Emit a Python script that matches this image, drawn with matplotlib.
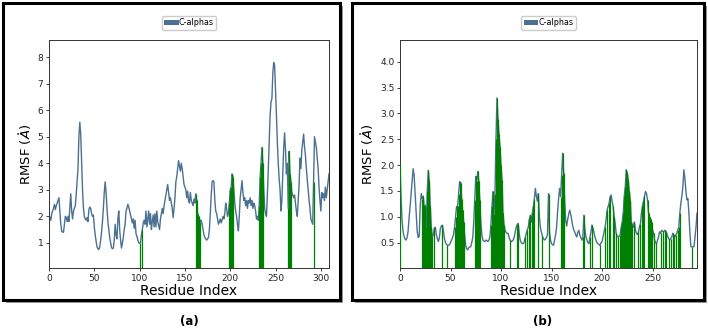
import numpy as np
import matplotlib.pyplot as plt
from matplotlib.patches import Rectangle, Patch

# RMSF 数据（每个残基一个值，按图读出）
rmsf_a = [
    2.05, 1.95, 1.85, 2.1, 2.2, 2.3, 2.45, 2.25, 2.4, 2.5,
    2.6, 2.7, 2.2, 1.7, 1.45, 1.4, 1.4, 1.7, 2.0, 1.95,
    1.8, 2.0, 1.8, 2.3, 2.85, 2.2, 1.9, 2.2, 2.3, 2.4,
    2.8, 3.3, 3.8, 5.0, 5.55, 5.1, 4.0, 3.0, 2.3, 2.0,
    1.9, 1.85, 1.95, 1.8, 2.25, 2.35, 2.3, 2.1, 2.0, 2.05,
    1.6, 1.3, 1.05, 0.85, 0.78, 0.75, 0.85, 1.1, 1.4, 1.8,
    2.3, 2.9, 3.3, 2.9, 2.3, 1.8, 1.5, 1.2, 1.0, 0.82,
    0.78, 0.8, 1.1, 1.7, 1.3, 1.15, 1.9, 2.2, 1.5, 1.1,
    0.8, 1.0, 1.2, 1.5, 1.7, 2.2, 2.3, 2.45, 2.35, 2.2,
    2.05, 1.9, 1.75, 1.9, 1.55, 1.85, 1.35, 1.25, 1.1, 1.0,
    0.98, 1.0, 1.3, 1.5, 1.75, 1.85, 1.7, 2.2, 1.6, 1.9,
    2.2, 1.7, 2.1, 1.5, 1.8, 2.05, 1.6, 2.1, 1.6, 2.2,
    1.8, 1.65, 1.5, 1.9, 2.1, 2.3, 2.1, 2.4, 2.6, 2.8,
    3.0, 3.2, 2.9, 2.6, 2.7, 2.5, 2.3, 1.95, 2.3, 2.7,
    3.3, 3.5, 3.8, 4.1, 3.9, 3.7, 4.0, 3.8, 3.5, 3.2,
    3.1, 3.0, 2.7, 2.95, 2.6, 2.5, 2.9, 2.6, 2.5, 2.4,
    2.65, 2.5, 2.85, 2.6, 2.1, 2.0, 1.9, 1.8, 1.85, 1.7,
    1.5, 1.3, 1.2, 1.15, 1.1, 1.15, 1.2, 1.5, 2.1, 2.8,
    3.3, 3.35, 3.3, 2.6, 2.2, 2.1, 1.9, 1.7, 1.8, 1.9,
    1.75, 1.85, 2.0, 1.9, 2.1, 2.5, 2.3, 2.0, 2.1, 2.5,
    3.0, 3.1, 3.6, 3.5, 3.0, 2.5, 2.2, 2.0, 1.7, 1.45,
    2.0, 2.7, 3.0, 3.35, 2.9, 2.6, 2.7, 2.4, 2.6, 2.3,
    2.6, 2.5, 2.7, 2.4, 2.6, 2.3, 2.5, 2.4, 2.2, 1.9,
    2.0, 1.85, 2.4, 3.5, 4.0, 4.6, 4.0, 3.0, 2.3, 2.1,
    2.0, 2.8, 3.8, 4.8, 5.8, 6.3, 6.45, 7.4, 7.8, 7.7,
    6.8, 5.8, 4.8, 4.0, 3.4, 3.0, 2.2, 2.6, 3.6, 4.6,
    5.15, 4.5, 3.6, 4.0, 2.3, 4.45, 3.6, 3.3, 2.9, 2.8,
    2.7, 2.8, 2.5, 2.2, 2.0, 2.6, 3.2, 4.2, 3.8, 4.5,
    4.8, 5.1, 4.6, 4.3, 3.8, 3.4, 3.0, 2.6, 2.3, 1.9,
    1.8, 1.7, 3.3, 5.0, 4.8, 4.6, 4.2, 3.8, 3.1, 2.6,
    2.2, 2.9, 2.7, 2.85, 2.6, 3.1, 2.7, 3.0, 3.3, 3.6,
]

rmsf_b = [
    2.0, 1.4, 0.95, 0.72, 0.62, 0.57, 0.55, 0.6, 0.72, 0.98,
    1.2, 1.45, 1.7, 1.93, 1.8, 1.45, 1.1, 0.72, 0.6, 0.62,
    1.2, 1.45, 1.35, 1.4, 1.2, 1.22, 0.8, 1.5, 1.9, 1.7,
    1.2, 0.8, 0.6, 0.65, 0.78, 0.8, 0.65, 0.58, 0.52, 0.6,
    0.78, 0.82, 0.84, 0.72, 0.58, 0.5, 0.47, 0.45, 0.45, 0.46,
    0.5, 0.55, 0.6, 0.66, 0.8, 1.0, 1.2, 1.2, 1.45, 1.68,
    1.66, 1.35, 1.13, 0.9, 0.65, 0.45, 0.38, 0.36, 0.4, 0.42,
    0.42, 0.5, 0.6, 0.9, 1.33, 1.78, 1.7, 1.88, 1.7, 1.33,
    0.9, 0.65, 0.55, 0.53, 0.52, 0.55, 0.54, 0.52, 0.55, 0.61,
    0.85, 1.2, 1.49, 1.05, 1.45, 2.5, 3.3, 2.9, 2.6, 2.36,
    2.0, 1.71, 1.07, 0.85, 0.74, 0.7, 0.68, 0.68, 0.6, 0.55,
    0.52, 0.53, 0.55, 0.6, 0.7, 0.8, 0.85, 0.87, 0.68, 0.55,
    0.5, 0.48, 0.48, 0.52, 0.6, 0.68, 0.75, 0.8, 0.95, 1.03,
    0.9, 1.07, 1.2, 1.35, 1.55, 1.39, 1.3, 1.45, 1.0, 0.8,
    0.7, 0.62, 0.58, 0.55, 0.57, 0.6, 0.65, 1.45, 0.7, 0.55,
    0.48, 0.46, 0.45, 0.55, 0.65, 0.8, 1.1, 1.35, 1.55, 1.39,
    1.8, 2.23, 1.84, 1.33, 0.94, 0.82, 0.95, 1.05, 1.13, 1.05,
    0.94, 0.82, 0.75, 0.7, 0.65, 0.61, 0.7, 0.74, 0.65, 0.6,
    0.55, 0.6, 1.03, 0.75, 0.62, 0.55, 0.5, 0.48, 0.6, 0.7,
    0.84, 0.78, 0.7, 0.6, 0.55, 0.5, 0.48, 0.46, 0.45, 0.5,
    0.52, 0.61, 0.7, 0.8, 0.94, 1.13, 1.2, 1.26, 1.39, 1.42,
    1.3, 1.2, 1.0, 0.87, 0.68, 0.62, 0.61, 0.63, 0.65, 0.8,
    0.9, 1.07, 1.4, 1.58, 1.91, 1.85, 1.71, 1.5, 1.33, 0.9,
    0.85, 0.8, 0.9, 0.75, 0.68, 0.66, 0.7, 0.8, 0.87, 1.07,
    1.2, 1.3, 1.4, 1.49, 1.45, 1.33, 1.07, 1.0, 0.95, 0.9,
    0.75, 0.68, 0.55, 0.5, 0.48, 0.55, 0.62, 0.71, 0.68, 0.74,
    0.72, 0.71, 0.74, 0.72, 0.68, 0.62, 0.58, 0.55, 0.58, 0.61,
    0.68, 0.65, 0.61, 0.65, 0.68, 0.75, 0.8, 1.07, 1.26, 1.4,
    1.58, 1.91, 1.75, 1.5, 1.33, 1.35, 1.07, 0.68, 0.42, 0.42,
    0.42, 0.42, 0.6, 0.8, 1.07,
]

# 与配体接触的残基（绿色竖线）
contacts_a = [100, 103, 162, 163, 164, 165, 166, 167, 199, 200, 201, 202, 203,
              232, 233, 234, 235, 236, 264, 265, 266, 267, 292]
contacts_b = [0, 22, 23, 24, 25, 26, 27, 28, 29, 30, 31, 32, 34, 42, 47,
              54, 55, 56, 57, 58, 59, 60, 61, 62, 63, 74, 75, 76, 77, 78, 79,
              90, 91, 92, 93, 94, 95, 96, 97, 98, 99, 100, 101, 102, 103,
              109, 116, 117, 124, 126, 128, 129, 131, 132, 133, 137, 141, 147,
              159, 160, 161, 162, 181, 182, 188, 190, 198, 203, 205, 207, 208,
              211, 212, 214, 216, 218, 219, 220, 221, 222, 223, 224, 225, 226,
              227, 228, 229, 230, 232, 236, 238, 240, 241, 242, 245, 246, 247,
              248, 249, 251, 253, 258, 260, 262, 263, 266, 268, 270, 271, 273,
              275, 276, 277, 289]

xticks_a = [0, 50, 100, 150, 200, 250, 300]
yticks_a = [1, 2, 3, 4, 5, 6, 7, 8]
xticks_b = [0, 50, 100, 150, 200, 250]
yticks_b = [0.5, 1.0, 1.5, 2.0, 2.5, 3.0, 3.5, 4.0]

line_color = '#4a7191'
W, H = 708, 334


def px_rect(x0, y0, x1, y1):
    """像素坐标（左上为原点）转换为 figure 坐标"""
    return [x0 / W, 1 - y1 / H, (x1 - x0) / W, (y1 - y0) / H]


def draw_frame(fig, x0, y0, x1, y1):
    # 阴影 + 黑色边框
    l, b, w, h = px_rect(x0, y0, x1, y1)
    fig.add_artist(Rectangle((l + 3 / W, b - 3 / H), w, h, transform=fig.transFigure,
                             facecolor='#9a9a9a', edgecolor='none', zorder=-3))
    fig.add_artist(Rectangle((l, b), w, h, transform=fig.transFigure,
                             facecolor='white', edgecolor='black', linewidth=2.2, zorder=-2))


def draw_panel(fig, rect, rmsf, contacts, xticks, yticks, ylim, yfmt):
    ax = fig.add_axes(rect)
    y = np.array(rmsf)
    x = np.arange(len(y))
    ax.plot(x, y, color=line_color, linewidth=1.0, zorder=2)
    ax.vlines(contacts, ylim[0], y[contacts], color='green', linewidth=0.9, zorder=3)
    ax.set_xlim(0, len(y) - 1)
    ax.set_ylim(*ylim)
    ax.set_xticks(xticks)
    ax.set_yticks(yticks)
    ax.set_yticklabels([yfmt.format(v) for v in yticks])
    ax.tick_params(labelsize=6.5, length=2.5, width=0.6, pad=1.5, colors='#222222')
    for s in ax.spines.values():
        s.set_linewidth(0.7)
        s.set_color('#333333')
    ax.set_xlabel("Residue Index", fontsize=10, labelpad=1)
    ax.set_ylabel(r"RMSF ($\mathring{A}$)", fontsize=9.5, labelpad=3)
    handle = Patch(facecolor=line_color, edgecolor='none', label='C-alphas')
    ax.legend(handles=[handle], loc='center', bbox_to_anchor=(0.5, 1.075), fontsize=5.8,
              handlelength=1.8, handleheight=0.6, handletextpad=0.05, borderpad=0.3,
              framealpha=1, edgecolor='#cccccc')
    return ax


fig = plt.figure(figsize=(W / 100, H / 100), dpi=100)

draw_frame(fig, 3, 3, 340, 300)
draw_frame(fig, 352, 3, 704, 300)

draw_panel(fig, px_rect(49, 40, 329, 268), rmsf_a, contacts_a, xticks_a, yticks_a,
           (0.05, 8.65), "{:g}")
draw_panel(fig, px_rect(400, 40, 697, 268), rmsf_b, contacts_b, xticks_b, yticks_b,
           (0.01, 4.42), "{:.1f}")

fig.text(189 / W, 1 - 322 / H, "(a)", ha='center', va='center', fontsize=8.5, fontweight='bold')
fig.text(543 / W, 1 - 322 / H, "(b)", ha='center', va='center', fontsize=8.5, fontweight='bold')

fig.savefig("out.png", dpi=100)
